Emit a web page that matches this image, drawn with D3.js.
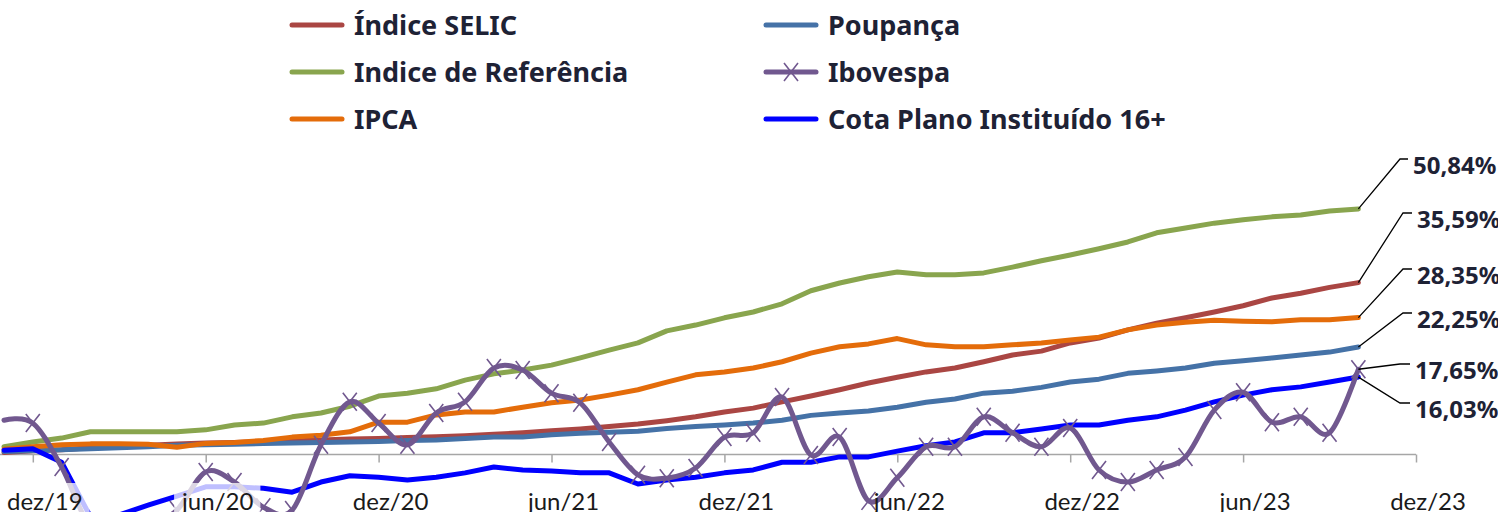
<!DOCTYPE html>
<html lang="pt-BR">
<head>
<meta charset="utf-8">
<title>Rentabilidade acumulada</title>
<script src="https://cdn.jsdelivr.net/npm/d3@7"></script>
<style>
  html, body { margin:0; padding:0; background:#fff; }
  #chart { width:1498px; height:512px; overflow:hidden; }
</style>
</head>
<body>
<div id="chart"></div>
<script>
// ---- data (cumulative return, %) ----
const months = [
  'nov/19','dez/19','jan/20','fev/20','mar/20','abr/20','mai/20','jun/20','jul/20','ago/20','set/20','out/20',
  'nov/20','dez/20','jan/21','fev/21','mar/21','abr/21','mai/21','jun/21','jul/21','ago/21','set/21','out/21',
  'nov/21','dez/21','jan/22','fev/22','mar/22','abr/22','mai/22','jun/22','jul/22','ago/22','set/22','out/22',
  'nov/22','dez/22','jan/23','fev/23','mar/23','abr/23','mai/23','jun/23','jul/23','ago/23','set/23','out/23'
];
const axisMonths = months.concat(['nov/23', 'dez/23']);
const tickLabels = ['dez/19','jun/20','dez/20','jun/21','dez/21','jun/22','dez/22','jun/23','dez/23'];

const selic = [0.4, 0.8, 1.0, 1.4, 1.7, 1.9, 2.2, 2.4, 2.5, 2.7, 2.8, 3.0, 3.2, 3.3, 3.5, 3.7, 3.9, 4.2, 4.5, 4.9, 5.3, 5.8, 6.3, 7.0,
  7.8, 8.8, 9.6, 10.9, 12.1, 13.4, 14.8, 16.0, 17.1, 17.9, 19.2, 20.6, 21.4, 23.1, 24.1, 25.8, 27.2, 28.3, 29.5, 30.8, 32.4, 33.4, 34.6, 35.59];
const poupanca = [0.6, 0.8, 1.0, 1.2, 1.4, 1.6, 1.9, 2.0, 2.1, 2.3, 2.4, 2.5, 2.6, 2.7, 2.9, 3.0, 3.3, 3.6, 3.6, 4.1, 4.4, 4.6, 4.8, 5.4,
  5.8, 6.1, 6.5, 7.1, 8.1, 8.6, 9.0, 9.8, 10.8, 11.5, 12.7, 13.1, 13.9, 15.0, 15.6, 16.8, 17.3, 17.9, 18.9, 19.4, 20.0, 20.6, 21.2, 22.25];
const referencia = [1.6, 2.6, 3.4, 4.7, 4.7, 4.7, 4.7, 5.1, 6.1, 6.5, 7.8, 8.6, 10.0, 12.1, 12.7, 13.6, 15.4, 16.7, 17.5, 18.5, 20.0, 21.6, 23.1, 25.6,
  26.8, 28.3, 29.5, 31.2, 33.9, 35.5, 36.8, 37.8, 37.2, 37.2, 37.6, 38.8, 40.1, 41.3, 42.6, 44.0, 45.9, 46.9, 47.9, 48.6, 49.2, 49.6, 50.4, 50.84];
const ipca = [1.1, 1.6, 2.0, 2.2, 2.2, 2.1, 1.5, 2.3, 2.5, 2.9, 3.6, 4.0, 4.7, 6.7, 6.7, 8.2, 8.8, 8.8, 9.8, 10.7, 11.3, 12.3, 13.4, 15.0,
  16.5, 17.1, 17.9, 19.2, 21.0, 22.3, 22.9, 24.0, 22.7, 22.3, 22.3, 22.7, 23.1, 23.7, 24.3, 25.8, 26.8, 27.4, 27.8, 27.6, 27.5, 27.9, 27.9, 28.35];
const ibovespa = [7.1, 6.5, -2.6, -15, -16, -15, -11.5, -3.6, -5.7, -10.9, -11.5, 2.0, 10.9, 6.5, 2.0, 8.6, 10.9, 17.9, 17.5, 12.7, 10.7, 2.6, -4.2, -4.9,
  -2.8, 3.6, 4.5, 11.9, -0.1, 3.6, -9.6, -4.8, 1.6, 1.6, 7.8, 4.5, 1.6, 5.5, -3.2, -5.7, -3.2, -0.5, 9.2, 12.9, 6.7, 7.8, 4.5, 17.65];
const cota = [0.9, 1.2, -1.6, -12.9, -12.5, -10.5, -8.6, -6.7, -6.7, -7.0, -7.8, -5.7, -4.4, -4.7, -5.3, -4.7, -3.8, -2.6, -3.2, -3.4, -3.8, -3.8, -6.1, -5.3,
  -4.7, -3.8, -3.2, -1.6, -1.6, -0.5, -0.5, 0.7, 1.8, 2.6, 4.5, 4.5, 5.3, 6.1, 6.1, 7.1, 7.8, 9.2, 10.9, 12.3, 13.4, 14.0, 15.0, 16.03];

// ---- series styling ----
const S = {
  selic:      { name:'Índice SELIC',              values:selic,      color:'#AA4643' },
  poupanca:   { name:'Poupança',                  values:poupanca,   color:'#4572A7' },
  referencia: { name:'Indice de Referência',      values:referencia, color:'#89A54E' },
  ibovespa:   { name:'Ibovespa',                  values:ibovespa,   color:'#71588F', smooth:true, marker:true },
  ipca:       { name:'IPCA',                      values:ipca,       color:'#E46C0A' },
  cota:       { name:'Cota Plano Instituído 16+', values:cota,       color:'#0000FF' }
};
const drawOrder   = ['selic', 'poupanca', 'referencia', 'ipca', 'cota', 'ibovespa'];
const legendOrder = ['selic', 'poupanca', 'referencia', 'ibovespa', 'ipca', 'cota'];

const W = 1498, H = 512;
const TEXT = '#1E2235';

const svg = d3.select('#chart').append('svg')
  .attr('width', W).attr('height', H)
  .style('display', 'block');
svg.append('rect').attr('width', W).attr('height', H).attr('fill', '#fff');

const x = d3.scalePoint().domain(axisMonths).range([4, 1416]);
const y = d3.scaleLinear().domain([0, 50]).range([454.5, 213]);

// x axis (line + ticks only, labels drawn on top later)
const gx = svg.append('g')
  .attr('transform', `translate(0,${y(0)})`)
  .call(d3.axisBottom(x).tickValues(tickLabels).tickSize(8).tickSizeOuter(0));
gx.select('.domain').attr('stroke', '#A6A6A6').attr('stroke-width', 1.5)
  .attr('d', `M0,0H${x('dez/23')}`);
gx.selectAll('.tick line').attr('stroke', '#A6A6A6').attr('stroke-width', 1.5);
gx.selectAll('.tick text').remove();

// lines
const lineLinear = d3.line().x((d, i) => x(months[i])).y(d => y(d));
const lineSmooth = d3.line().x((d, i) => x(months[i])).y(d => y(d)).curve(d3.curveCardinal.tension(0));

const xMark = (cx, cy) => `M${cx-7},${cy-9}L${cx+7},${cy+9}M${cx+7},${cy-9}L${cx-7},${cy+9}`;

drawOrder.forEach(key => {
  const s = S[key];
  svg.append('path')
    .datum(s.values)
    .attr('fill', 'none')
    .attr('stroke', s.color)
    .attr('stroke-width', 5)
    .attr('stroke-linejoin', 'round')
    .attr('stroke-linecap', 'round')
    .attr('d', s.smooth ? lineSmooth : lineLinear);

  if (s.marker) {
    // the base point (first month) carries no marker
    svg.append('g').selectAll('path')
      .data(s.values.map((v, i) => ({ v, m: months[i] })).slice(1))
      .join('path')
      .attr('d', d => xMark(x(d.m), y(d.v)))
      .attr('stroke', s.color)
      .attr('stroke-width', 1.6)
      .attr('fill', 'none');
  }
});

// tick labels (first two sit on a translucent white box)
const boxedTicks = ['dez/19', 'jun/20'];
const gl = svg.append('g');
tickLabels.forEach(t => {
  const g = gl.append('g');
  const txt = g.append('text')
    .attr('x', x(t) + 12)
    .attr('y', 510)
    .attr('text-anchor', 'middle')
    .attr('font-family', 'Lato, sans-serif')
    .attr('font-size', 24)
    .attr('fill', '#1a1a1a')
    .text(t);
  if (boxedTicks.includes(t)) {
    const b = txt.node().getBBox();
    g.insert('rect', 'text')
      .attr('x', b.x - 7).attr('y', 483)
      .attr('width', b.width + 14).attr('height', H - 483)
      .attr('fill', '#fff').attr('fill-opacity', 0.75);
  }
});

// legend
const legend = svg.append('g');
legendOrder.forEach((key, i) => {
  const s = S[key];
  const lx = 292 + (i % 2) * 474;
  const ly = 25 + Math.floor(i / 2) * 47;
  legend.append('line')
    .attr('x1', lx).attr('x2', lx + 50).attr('y1', ly).attr('y2', ly)
    .attr('stroke', s.color).attr('stroke-width', 5).attr('stroke-linecap', 'round');
  if (s.marker) {
    legend.append('path')
      .attr('d', xMark(lx + 25, ly))
      .attr('stroke', s.color).attr('stroke-width', 1.6);
  }
  legend.append('text')
    .attr('x', lx + 62).attr('y', ly + 10)
    .attr('font-family', '"Noto Sans", sans-serif')
    .attr('font-weight', 700)
    .attr('font-size', 27)
    .attr('fill', TEXT)
    .text(s.name);
});

// end-value labels with leader lines
const endLabels = [
  { key:'referencia', stubY:159, elbowX:1400, stubX:1408 },
  { key:'selic',      stubY:213, elbowX:1403, stubX:1412 },
  { key:'ipca',       stubY:269, elbowX:1403, stubX:1412 },
  { key:'poupanca',   stubY:313, elbowX:1403, stubX:1412 },
  { key:'ibovespa',   stubY:364, elbowX:1400, stubX:1410 },
  { key:'cota',       stubY:403, elbowX:1400, stubX:1410 }
];
const last = months[months.length - 1];
const gEnd = svg.append('g');
endLabels.forEach(l => {
  const vals = S[l.key].values;
  const v = vals[vals.length - 1];
  const px = x(last), py = y(v);
  gEnd.append('path')
    .attr('d', `M${px},${py}L${l.elbowX},${l.stubY}H${l.stubX}`)
    .attr('fill', 'none').attr('stroke', '#000').attr('stroke-width', 1.3);
  gEnd.append('text')
    .attr('x', l.stubX + 5).attr('y', l.stubY + 15)
    .attr('font-family', '"Noto Sans", sans-serif')
    .attr('font-weight', 700)
    .attr('font-size', 24)
    .attr('fill', TEXT)
    .text(v.toFixed(2).replace('.', ',') + '%');
});
</script>
</body>
</html>
